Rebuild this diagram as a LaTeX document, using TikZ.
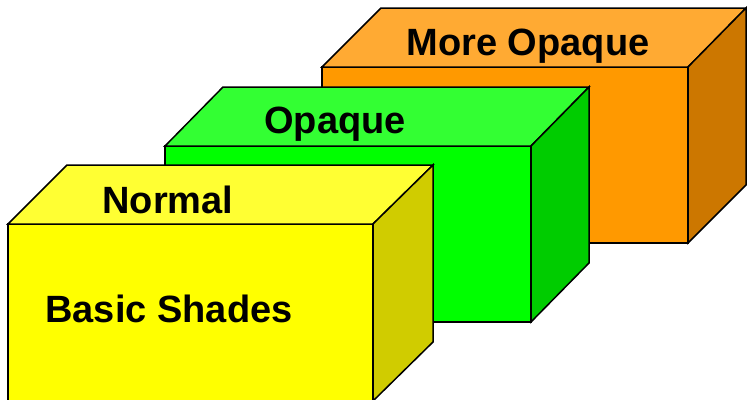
\documentclass[tikz,border=0pt]{standalone}
\usepackage{fontspec}
\setmainfont{Liberation Sans}
\definecolor{ylwfront}{HTML}{FFFF00}
\definecolor{ylwtop}{HTML}{FFFF33}
\definecolor{ylwside}{HTML}{D0CC00}
\definecolor{grnfront}{HTML}{00FF00}
\definecolor{grntop}{HTML}{33FF33}
\definecolor{grnside}{HTML}{00CC00}
\definecolor{orgfront}{HTML}{FF9900}
\definecolor{orgtop}{HTML}{FFAA33}
\definecolor{orgside}{HTML}{CC7700}
\tikzset{
  face/.style={draw=black,line width=1.5pt,line join=miter},
  label/.style={anchor=base,font=\fontsize{38}{40}\selectfont\bfseries}
}
\begin{document}
\begin{tikzpicture}[x=1pt,y=-1pt]
        \useasboundingbox (0,0) rectangle (747,399);
        \clip (0,0) rectangle (747,399);
        % orange box
        \filldraw[face,fill=orgfront] (322,67) rectangle (688,243);
        \filldraw[face,fill=orgtop] (322,67) -- (381,8) -- (746,8) -- (688,67) -- cycle;
        \filldraw[face,fill=orgside] (688,67) -- (746,8) -- (746,185) -- (688,243) -- cycle;
        \node[label] (moreopaque) at (528,55) {More Opaque};
        % green box
        \filldraw[face,fill=grnfront] (165,146) rectangle (531,322);
        \filldraw[face,fill=grntop] (165,146) -- (223,87) -- (589,87) -- (531,146) -- cycle;
        \filldraw[face,fill=grnside] (531,146) -- (589,87) -- (589,263) -- (531,322) -- cycle;
        \node[label] (opaque) at (335,133) {Opaque};
        % yellow box
        \filldraw[face,fill=ylwfront] (8,224) rectangle (373,401);
        \filldraw[face,fill=ylwtop] (8,224) -- (67,165) -- (433,165) -- (373,224) -- cycle;
        \filldraw[face,fill=ylwside] (373,224) -- (433,165) -- (433,342) -- (373,401) -- cycle;
        \node[label] (normal) at (168,213) {Normal};
        \node[label] (basic) at (169,322) {Basic Shades};
    \end{tikzpicture}
\end{document}
